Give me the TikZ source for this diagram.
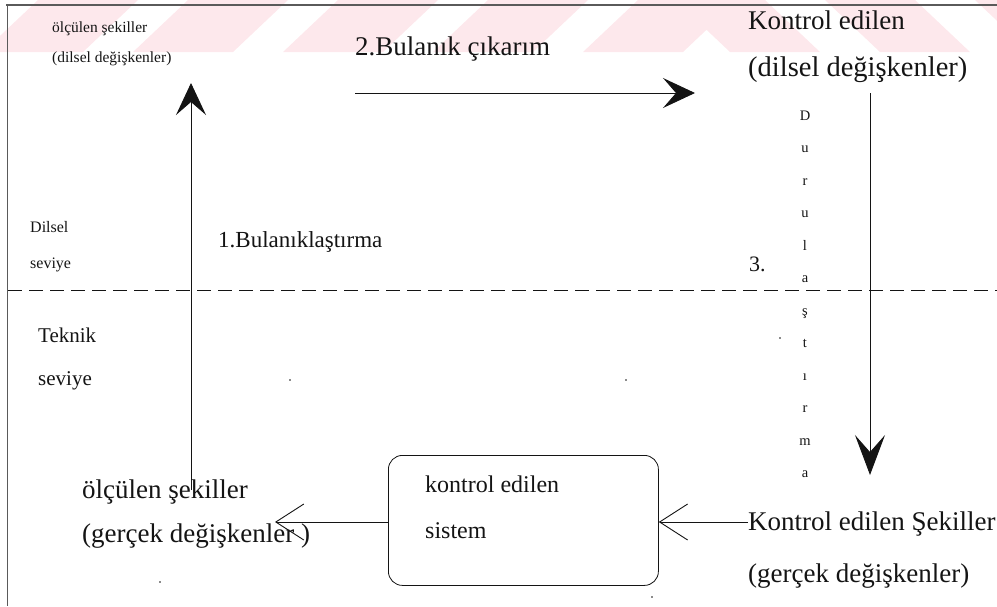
\documentclass[tikz,border=0pt]{standalone}
\usepackage{fontspec}
\setmainfont{Liberation Serif}
\usetikzlibrary{arrows.meta}

\definecolor{stripe}{RGB}{253,232,236}
\definecolor{ink}{RGB}{20,20,20}
\definecolor{frame}{RGB}{90,90,90}

\tikzset{
  txt/.style={anchor=base west, inner sep=0pt, text=ink},
  conn/.style={draw=ink, line width=0.9pt},
  bighead/.style={-{Stealth[length=32pt, width=30pt, inset=13pt]}},
  longhead/.style={-{Stealth[length=40pt, width=30pt, inset=17pt]}},
  openhead/.style={-{Straight Barb[length=28pt, width=36pt, line width=0.9pt]}},
  sysbox/.style={draw=ink, line width=0.8pt, rounded corners=14pt},
  fs/.style={font=\fontsize{#1}{#1}\selectfont},
}

\begin{document}
\begin{tikzpicture}[x=1pt, y=-1pt]
\useasboundingbox (0,0) rectangle (997,606);

% faint stripes along the top edge
\foreach \b in {-17,133,283,433,583}
  \fill[stripe] (\b,52) -- (\b+100,52) -- (\b+155,0) -- (\b+55,0) -- cycle;
\foreach \t in {675,825,975}
  \fill[stripe] (\t,0) -- (\t+90,0) -- (\t+145,52) -- (\t+55,52) -- cycle;

% page frame
\draw[frame, line width=1.4pt] (6,5) -- (997,5);
\draw[frame, line width=0.6pt] (7,5) -- (7,606);

% boundary between the linguistic and the technical level
\draw[ink, line width=0.8pt, dash pattern=on 14pt off 7pt] (8,290) -- (997,290);

% upper (linguistic) level texts
\node[txt, fs=15.5] (ol) at (52,32) {ölçülen şekiller};
\node[txt, fs=15.5] (old) at (52,62) {(dilsel değişkenler)};
\node[txt, fs=27] (inf) at (355,55) {2.Bulanık çıkarım};
\node[txt, fs=27] (kr) at (748,29) {Kontrol edilen};
\node[txt, fs=28.5] (krd) at (748,76) {(dilsel değişkenler)};
\node[txt, fs=16] (dl1) at (30,232) {Dilsel};
\node[txt, fs=16] (dl2) at (30,268) {seviye};
\node[txt, fs=23] (fuz) at (218,247) {1.Bulanıklaştırma};
\node[txt, fs=22] (three) at (749,271) {3.};

% "Durulaştırma" written letter by letter downwards
\foreach \ch [count=\i from 0] in {D,u,r,u,l,a,ş,t,ı,r,m,a}
  \node[anchor=base, inner sep=0pt, text=ink, fs=14.5] (dz\i) at (805,120+32.5*\i) {\ch};

% lower (technical) level texts
\node[txt, fs=21] (tk1) at (38,342) {Teknik};
\node[txt, fs=21] (tk2) at (38,385) {seviye};
\node[txt, fs=27] (om) at (82,498) {ölçülen şekiller};
\node[txt, fs=27] (omg) at (82,542) {(gerçek değişkenler )};
\node[txt, fs=27] (ks) at (748,530) {Kontrol edilen Şekiller};
\node[txt, fs=27] (ksg) at (748,582) {(gerçek değişkenler)};

% controlled system
\node[sysbox, minimum width=270pt, minimum height=130pt, anchor=north west, inner sep=0pt] (sys) at (388,455) {};
\node[txt, fs=24] (sy1) at (425,492) {kontrol edilen};
\node[txt, fs=24] (sy2) at (425,538) {sistem};

% connector end points
\coordinate (fzS) at (191,490);
\coordinate (fzE) at (191,83);
\coordinate (inS) at (355,93);
\coordinate (inE) at (695,93);
\coordinate (dfS) at (870,93);
\coordinate (dfE) at (870,475);
\coordinate (msE) at (275,522);
\coordinate (ksS) at (748,522);

% connectors
\draw[conn, bighead] (fzS) -- (fzE);
\draw[conn, bighead] (inS) -- (inE);
\draw[conn, longhead] (dfS) -- (dfE);
\draw[conn, openhead] (sys.west |- msE) -- (msE);
\draw[conn, openhead] (ksS) -- (sys.east |- ksS);

% specks
\foreach \p in {(290,380),(626,380),(780,338),(160,582),(652,597)}
  \fill[ink] \p circle (0.9pt);
\end{tikzpicture}
\end{document}
